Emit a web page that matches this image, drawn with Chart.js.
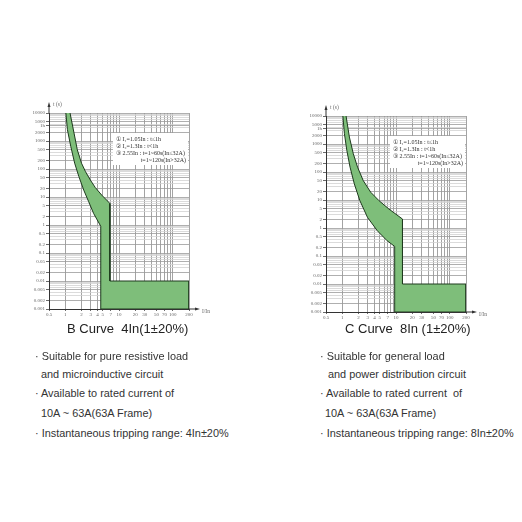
<!DOCTYPE html>
<html>
<head>
<meta charset="utf-8">
<script src="https://cdn.jsdelivr.net/npm/chart.js@4.4.1/dist/chart.umd.min.js"></script>
<style>
  body { margin: 0; background: #fff; width: 522px; height: 522px; position: relative; overflow: hidden;
         font-family: 'Liberation Sans', Arial, sans-serif; }
  canvas { position: absolute; }
  .h { position: absolute; white-space: pre; color: #222; font-size: 13px; line-height: 16px; }
  .t { position: absolute; white-space: pre; color: #333; font-size: 10.9px; line-height: 14px; }
</style>
</head>
<body>
<canvas id="bChart" width="215" height="230" style="left:0;top:95px"></canvas>
<canvas id="cChart" width="215" height="230" style="left:277px;top:98px"></canvas>

<div class="h" style="left:67px;top:321px">B Curve  4In(1±20%)</div>
<div class="h" style="left:345px;top:321px">C Curve  8In (1±20%)</div>

<div class="t" style="left:35px;top:349px">· Suitable for pure resistive load</div>
<div class="t" style="left:41px;top:367px">and microinductive circuit</div>
<div class="t" style="left:35px;top:386px">· Available to rated current of</div>
<div class="t" style="left:41px;top:406px">10A ~ 63A(63A Frame)</div>
<div class="t" style="left:35px;top:426px">· Instantaneous tripping range: 4In±20%</div>

<div class="t" style="left:320px;top:349px">· Suitable for general load</div>
<div class="t" style="left:328px;top:367px">and power distribution circuit</div>
<div class="t" style="left:320px;top:386px">· Available to rated current  of</div>
<div class="t" style="left:325px;top:406px">10A ~ 63A(63A Frame)</div>
<div class="t" style="left:320px;top:426px">· Instantaneous tripping range: 8In±20%</div>

<script>
// tripping band, B curve (x = I/In, t in seconds)
const bUpperX = [1.23, 1.46, 1.68, 2.01, 2.38, 2.93, 3.61, 4.77, 6.76];
const bUpperT = [10000, 1914, 483, 161, 81, 40.5, 22, 11.7, 5.9];
const bLowerX = [1.03, 1.10, 1.27, 1.50, 1.80, 2.21, 2.73, 3.37, 4.58];
const bLowerT = [10000, 2523, 637, 161, 53, 17.7, 6.8, 2.6, 0.9];

// tripping band, C curve
const cUpperX = [1.18, 1.36, 1.61, 1.93, 2.46, 3.39, 4.82, 7.35, 13.2];
const cUpperT = [10000, 1768, 447, 149, 49.4, 18.9, 9.5, 4.8, 2.09];
const cLowerX = [1.03, 1.10, 1.22, 1.40, 1.68, 2.13, 2.95, 4.49, 6.85, 9.46];
const cLowerT = [10000, 2328, 588, 149, 37.6, 9.5, 2.4, 0.8, 0.35, 0.22];

// instantaneous zone: t between these, up to xMax
const instTop = 0.01;
const yMin = 0.001, yMax = 10000;
const xMin = 0.5, xMax = 200;

const xTicks = [0.5, 1, 2, 3, 4, 5, 7, 10, 20, 30, 50, 70, 100, 200];
const xLabels = ['0.5', '1', '2', '3', '4', '5', '7', '10', '20', '30', '50', '70', '100', '200'];
const yTicks = [10000, 5000, 3600, 2000, 1000, 500, 200, 100, 50, 20, 10, 5, 2, 1,
                0.5, 0.2, 0.1, 0.05, 0.02, 0.01, 0.005, 0.002, 0.001];
const yLabels = ['10000', '5000', '1h', '2000', '1000', '500', '200', '100', '50', '20', '10', '5', '2', '1',
                 '0.5', '0.2', '0.1', '0.05', '0.02', '0.01', '0.005', '0.002', '0.001'];

const infoText = ['① I₁=1.05In : t≤1h', '② I₂=1.3In : t<1h', '③ 2.55In : t=1~60s(In≤32A)', 't=1~120s(In>32A)'];

// log paper grid lines (1..9 x 10^n)
const xGrid = [0.5];
for (let n = 0; n <= 2; n++) {
  for (let m = 1; m <= 9; m++) {
    const v = Number((m * 10 ** n).toFixed(6));
    if (v <= xMax) xGrid.push(v);
  }
}
const yGrid = [3600];
for (let n = -3; n <= 4; n++) {
  for (let m = 1; m <= 9; m++) {
    const v = Number((m * 10 ** n).toFixed(6));
    if (v <= yMax) yGrid.push(v);
  }
}
yGrid.sort((a, b) => a - b);

function bandPoints(ux, ut, lx, lt) {
  const pts = ux.map((x, i) => ({ x: x, y: ut[i] }));
  pts.push({ x: ux[ux.length - 1], y: instTop });
  pts.push({ x: xMax, y: instTop });
  pts.push({ x: xMax, y: yMin });
  pts.push({ x: lx[lx.length - 1], y: yMin });
  for (let i = lx.length - 1; i >= 0; i--) pts.push({ x: lx[i], y: lt[i] });
  return pts;
}

const decor = {
  id: 'decor',
  beforeDatasetsDraw(chart) {
    const { ctx, chartArea: a } = chart;
    ctx.save();
    // legend box
    ctx.fillStyle = '#fff';
    ctx.fillRect(a.right - 76, a.top + 20, 75, 32);
    ctx.fillStyle = '#333';
    ctx.font = '6px "Liberation Serif"';
    ctx.textBaseline = 'middle';
    ctx.textAlign = 'left';
    for (let i = 0; i < 3; i++) ctx.fillText(infoText[i], a.right - 73, a.top + 26 + i * 7);
    ctx.textAlign = 'right';
    ctx.fillText(infoText[3], a.right - 3, a.top + 47);
    ctx.restore();
  },
  afterDraw(chart) {
    const { ctx, chartArea: a } = chart;
    ctx.save();
    ctx.strokeStyle = '#333';
    ctx.fillStyle = '#333';
    ctx.lineWidth = 1;
    // y axis arrow
    ctx.beginPath();
    ctx.moveTo(a.left, a.top);
    ctx.lineTo(a.left, a.top - 7);
    ctx.stroke();
    ctx.beginPath();
    ctx.moveTo(a.left, a.top - 11);
    ctx.lineTo(a.left - 1.5, a.top - 6);
    ctx.lineTo(a.left + 1.5, a.top - 6);
    ctx.fill();
    // x axis arrow
    ctx.beginPath();
    ctx.moveTo(a.right, a.bottom);
    ctx.lineTo(a.right + 7, a.bottom);
    ctx.stroke();
    ctx.beginPath();
    ctx.moveTo(a.right + 11, a.bottom);
    ctx.lineTo(a.right + 6, a.bottom - 1.5);
    ctx.lineTo(a.right + 6, a.bottom + 1.5);
    ctx.fill();
    ctx.fillStyle = '#666';
    ctx.font = '5.5px "Liberation Serif"';
    ctx.textBaseline = 'middle';
    ctx.textAlign = 'left';
    ctx.fillText('t (s)', a.left + 4, a.top - 8);
    ctx.fillText('I/In', a.right + 13, a.bottom + 3);
    ctx.restore();
  }
};

function makeChart(id, ux, ut, lx, lt) {
  const ctx = document.getElementById(id).getContext('2d');
  return new Chart(ctx, {
    type: 'scatter',
    data: {
      datasets: [{
        data: bandPoints(ux, ut, lx, lt),
        showLine: true,
        fill: 'shape',
        backgroundColor: 'rgb(126, 190, 122)',
        borderColor: '#1e3a1e',
        borderWidth: 1,
        pointRadius: 0,
        tension: 0,
      }, ],
    },
    options: {
      responsive: false,
      animation: false,
      events: [],
      layout: { padding: { top: 18, right: 26, left: 0, bottom: 0 } },
      plugins: {
        legend: { display: false },
        tooltip: { enabled: false },
      },
      scales: {
        x: {
          type: 'logarithmic',
          min: xMin,
          max: xMax,
          afterBuildTicks: s => { s.ticks = xGrid.map(v => ({ value: v })); },
          afterFit: s => { s.height = 16; },
          ticks: {
            autoSkip: false,
            maxRotation: 0,
            padding: 1,
            color: '#666',
            font: { family: 'Liberation Serif', size: 5 },
            callback: v => {
              const i = xTicks.indexOf(v);
              return i >= 0 ? xLabels[i] : '';
            },
          },
          grid: {
            color: '#8c8c8c',
            lineWidth: 0.8,
            tickLength: 2,
            tickColor: c => (c.tick && xTicks.includes(c.tick.value)) ? '#444' : 'rgba(0,0,0,0)',
          },
          border: { color: '#333', width: 1 },
        },
        y: {
          type: 'logarithmic',
          min: yMin,
          max: yMax,
          afterBuildTicks: s => { s.ticks = yGrid.map(v => ({ value: v })); },
          afterFit: s => { s.width = 49; },
          ticks: {
            autoSkip: false,
            padding: 1,
            color: '#666',
            font: { family: 'Liberation Serif', size: 5 },
            callback: v => {
              const i = yTicks.indexOf(v);
              return i >= 0 ? yLabels[i] : '';
            },
          },
          grid: {
            color: c => (c.tick && yTicks.includes(c.tick.value)) ? '#9a9a9a' : '#d2d2d2',
            lineWidth: 0.8,
            tickLength: 3,
            tickColor: c => (c.tick && yTicks.includes(c.tick.value)) ? '#444' : 'rgba(0,0,0,0)',
          },
          border: { color: '#333', width: 1 },
        },
      },
    },
    plugins: [decor],
  });
}

makeChart('bChart', bUpperX, bUpperT, bLowerX, bLowerT);
makeChart('cChart', cUpperX, cUpperT, cLowerX, cLowerT);
</script>
</body>
</html>
